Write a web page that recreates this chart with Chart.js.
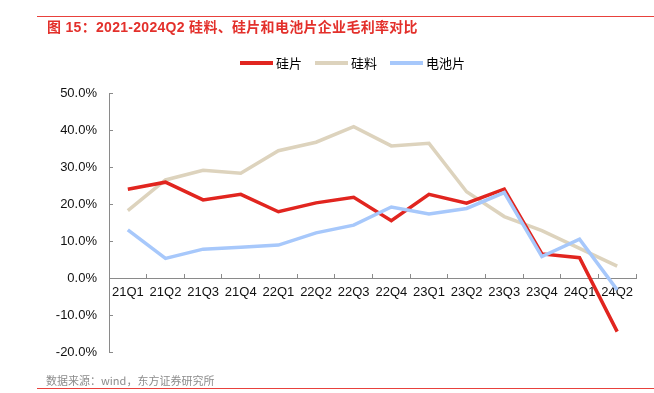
<!DOCTYPE html>
<html>
<head>
<meta charset="utf-8">
<script src="https://cdn.jsdelivr.net/npm/chart.js@4"></script>
<style>
  html,body{margin:0;padding:0;background:#fff;}
  #wrap{position:relative;width:654px;height:393px;overflow:hidden;font-family:"Liberation Sans","Noto Sans CJK SC",sans-serif;}
  #chart{position:absolute;left:0;top:0;}
  .rule{position:absolute;left:37px;right:0;height:1px;background:#e8413c;}
  #title{position:absolute;left:47px;top:18px;font-size:14px;line-height:18px;color:#e3302b;font-weight:bold;white-space:nowrap;letter-spacing:0.3px;}
  #legend{position:absolute;top:55px;left:0;width:654px;height:16px;font-size:13px;font-family:"Noto Sans CJK SC",sans-serif;}
  .li{position:absolute;top:0;height:16px;line-height:16px;white-space:nowrap;}
  .li i{display:inline-block;width:33px;height:4px;vertical-align:middle;margin-right:3px;position:relative;top:-1px;}
  #source{position:absolute;left:46px;top:372px;font-size:11px;line-height:16px;color:#8c8c8c;white-space:nowrap;font-family:"Noto Sans CJK SC",sans-serif;}
</style>
</head>
<body>
<div id="wrap">
  <canvas id="chart" width="654" height="393"></canvas>
  <div class="rule" style="top:16px"></div>
  <div id="title">图 15：2021-2024Q2 硅料、硅片和电池片企业毛利率对比</div>
  <div id="legend"></div>
  <div id="source">数据来源：wind，东方证券研究所</div>
  <div class="rule" style="top:388px"></div>
</div>
<script>
// quarters on the x axis
const quarters = ['21Q1','21Q2','21Q3','21Q4','22Q1','22Q2','22Q3','22Q4','23Q1','23Q2','23Q3','23Q4','24Q1','24Q2'];
// gross margin, %
const wafer = [24.0, 25.9, 21.1, 22.6, 17.9, 20.3, 21.8, 15.5, 22.6, 20.2, 24.0, 6.5, 5.5, -14.5];   // 硅片
const poly  = [18.2, 26.5, 29.1, 28.3, 34.4, 36.7, 40.9, 35.7, 36.4, 23.3, 16.6, 12.8, 8.0, 3.2];    // 硅料
const cell  = [13.0, 5.3, 7.8, 8.3, 8.9, 12.2, 14.3, 19.2, 17.3, 18.8, 23.1, 5.8, 10.5, -3.2];      // 电池片
const yMin = -20, yMax = 50, yStep = 10;

const series = [
  {label:'硅片', data:wafer, color:'#e1251f', order:1, lx:240},
  {label:'硅料', data:poly, color:'#ddd3bd', order:2, lx:315},
  {label:'电池片', data:cell, color:'#a7c8fb', order:0, lx:390}
];

// legend
const lg = document.getElementById('legend');
series.forEach(s=>{
  const d=document.createElement('div'); d.className='li'; d.style.left=s.lx+'px';
  d.innerHTML='<i style="background:'+s.color+'"></i>'+s.label; lg.appendChild(d);
});

const axisColor = '#8a8a8a';
const font = {family:'"Liberation Sans", Arial, sans-serif', size:13};

new Chart(document.getElementById('chart'), {
  type:'line',
  data:{labels:quarters, datasets:series.map(s=>({label:s.label,data:s.data,borderColor:s.color,backgroundColor:s.color,borderWidth:3.5,pointRadius:0,tension:0,order:s.order,borderJoinStyle:'miter'}))},
  options:{
    responsive:false, animation:false,
    layout:{padding:{top:93,bottom:41,left:0,right:18}},
    plugins:{legend:{display:false},tooltip:{enabled:false}},
    scales:{
      x:{position:{y:0}, offset:true,
         grid:{display:true,drawOnChartArea:false,drawTicks:true,tickLength:-5,color:axisColor,offset:true},
         border:{display:true,color:axisColor,width:1},
         ticks:{color:'#111',font,padding:12,maxRotation:0,autoSkip:false}},
      y:{min:yMin,max:yMax,
         afterFit(scale){ scale.width = 109; },
         grid:{display:true,drawOnChartArea:false,drawTicks:true,tickLength:-4,color:axisColor},
         border:{display:true,color:axisColor,width:1},
         ticks:{stepSize:yStep,color:'#111',font,padding:16,callback:v=>v.toFixed(1)+'%'}}
    }
  }
});
</script>
</body>
</html>
